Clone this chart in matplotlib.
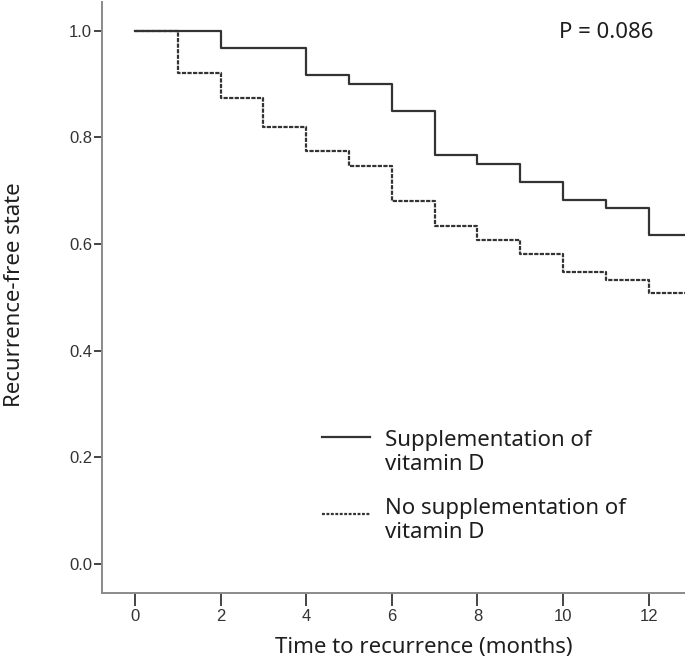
"""
Kaplan-Meier style plot: recurrence-free state by vitamin D supplementation
"""

import matplotlib
matplotlib.use('Agg')
import matplotlib.pyplot as plt
import numpy as np

# step data (months, survival fraction)
supp_months = [0, 2, 4, 5, 6, 7, 8, 9, 10, 11, 12]
supp_surv = [1.0, 0.967, 0.917, 0.900, 0.850, 0.767, 0.750, 0.717, 0.683, 0.667, 0.617]

nosupp_months = [0, 1, 2, 3, 4, 5, 6, 7, 8, 9, 10, 11, 12]
nosupp_surv = [1.0, 0.920, 0.874, 0.820, 0.774, 0.747, 0.681, 0.633, 0.608, 0.581, 0.547, 0.533, 0.508]

follow_up_end = 13.5

supp_label = 'Supplementation of\nvitamin D'
nosupp_label = 'No supplementation of\nvitamin D'
p_text = 'P = 0.086'

xticks = np.arange(0, 13, 2)
yticks = np.arange(0, 1.01, 0.2)

label_font = 'Noto Sans'
tick_font = 'Liberation Sans'
line_col = '#333333'
spine_col = '#8a8a8a'
text_col = '#1e1e1e'
fsize = 16

fig = plt.figure(figsize=(6.85, 6.58), dpi=100)
ax = fig.add_axes([0.1485, 0.0992, 0.8515, 0.8978])

# extend the last step to the end of follow-up
ax.step(supp_months + [follow_up_end], supp_surv + [supp_surv[-1]], where='post',
        color=line_col, linewidth=1.6)
ax.step(nosupp_months + [follow_up_end], nosupp_surv + [nosupp_surv[-1]], where='post',
        color=line_col, linewidth=1.6, linestyle=(0, (1.9, 0.6)))

ax.set_xlim(-0.78, 12.85)
ax.set_ylim(-0.054, 1.054)

ax.set_xticks(xticks)
ax.set_yticks(yticks)
ax.set_yticklabels(['%.1f' % v for v in yticks])

for side in ['top', 'right']:
    ax.spines[side].set_visible(False)
for side in ['left', 'bottom']:
    ax.spines[side].set_color(spine_col)
    ax.spines[side].set_linewidth(1.4)

ax.tick_params(axis='y', direction='out', length=6, width=1.4, color='#444444',
               labelsize=12, labelcolor='#333333', pad=1)
ax.tick_params(axis='x', direction='out', length=9, width=1.4, color='#444444',
               labelsize=12, labelcolor='#333333', pad=3)
for lab in ax.get_xticklabels() + ax.get_yticklabels():
    lab.set_fontfamily(tick_font)

ax.set_xlabel('Time to recurrence (months)', fontsize=fsize, family=label_font,
              color=text_col, va='center')
ax.xaxis.set_label_coords(0.5525, -0.092)
ax.set_ylabel('Recurrence-free state', fontsize=fsize, family=label_font,
              color=text_col, va='center')
ax.yaxis.set_label_coords(-0.149, 0.504)

# p value
ax.text(0.8646, 0.9475, p_text, transform=ax.transAxes, ha='center', va='center',
        fontsize=fsize, family=label_font, color=text_col)

# hand-made legend
ax.plot([0.378, 0.46], [0.2636, 0.2636], transform=ax.transAxes, color=line_col,
        linewidth=1.6)
ax.text(0.486, 0.2754, supp_label, transform=ax.transAxes, ha='left', va='top',
        fontsize=fsize, family=label_font, color=text_col, linespacing=1.2)
ax.plot([0.378, 0.46], [0.133, 0.133], transform=ax.transAxes, color=line_col,
        linewidth=1.6, linestyle=(0, (1.3, 0.7)))
ax.text(0.486, 0.1603, nosupp_label, transform=ax.transAxes, ha='left', va='top',
        fontsize=fsize, family=label_font, color=text_col, linespacing=1.2)

plt.savefig('out.png', dpi=100)
